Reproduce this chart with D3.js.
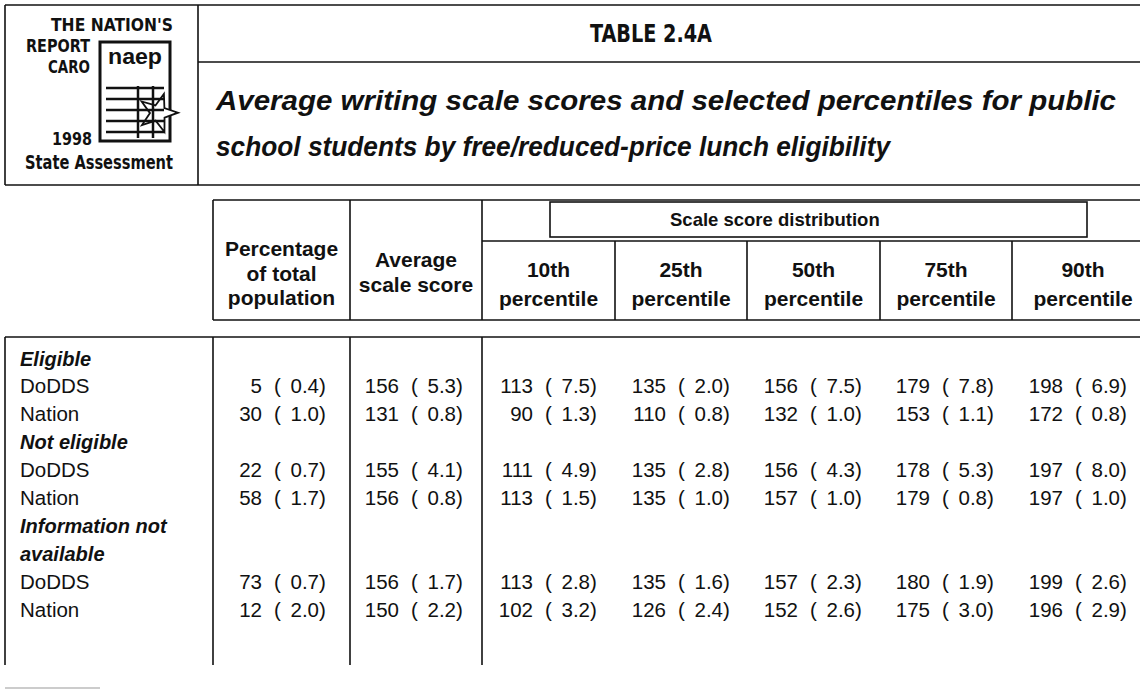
<!DOCTYPE html>
<html>
<head>
<meta charset="utf-8">
<script src="https://cdn.jsdelivr.net/npm/d3@7"></script>
<style>
  html, body { margin: 0; padding: 0; background: #fff; }
  svg { display: block; }
  text { fill: #111; }
</style>
</head>
<body>
<svg id="chart" width="1140" height="690"></svg>
<script>
// ---------------- DATA ----------------
const tableTitle = "TABLE 2.4A";
const subtitleLines = [
  "Average writing scale scores and selected percentiles for public",
  "school students by free/reduced-price lunch eligibility"
];
const columnKeys = ["pct", "avg", "p10", "p25", "p50", "p75", "p90"];
const headerTop = [["Percentage", "of total", "population"], ["Average", "scale score"]];
const percentileHeaders = ["10th", "25th", "50th", "75th", "90th"];
const groups = ["Eligible", "Not eligible", "Information not available"];
const jurisdictions = ["DoDDS", "Nation", "DoDDS", "Nation", "DoDDS", "Nation"];
const pct    = [5, 30, 22, 58, 73, 12];
const pctSE  = [0.4, 1.0, 0.7, 1.7, 0.7, 2.0];
const avg    = [156, 131, 155, 156, 156, 150];
const avgSE  = [5.3, 0.8, 4.1, 0.8, 1.7, 2.2];
const p10    = [113, 90, 111, 113, 113, 102];
const p10SE  = [7.5, 1.3, 4.9, 1.5, 2.8, 3.2];
const p25    = [135, 110, 135, 135, 135, 126];
const p25SE  = [2.0, 0.8, 2.8, 1.0, 1.6, 2.4];
const p50    = [156, 132, 156, 157, 157, 152];
const p50SE  = [7.5, 1.0, 4.3, 1.0, 2.3, 2.6];
const p75    = [179, 153, 178, 179, 180, 175];
const p75SE  = [7.8, 1.1, 5.3, 0.8, 1.9, 3.0];
const p90    = [198, 172, 197, 197, 199, 196];
const p90SE  = [6.9, 0.8, 8.0, 1.0, 2.6, 2.9];

const values = {pct, avg, p10, p25, p50, p75, p90};
const ses = {pct: pctSE, avg: avgSE, p10: p10SE, p25: p25SE, p50: p50SE, p75: p75SE, p90: p90SE};

// row slots: group headers + data rows
const rowSlots = ["g0", "r0", "r1", "g1", "r2", "r3", "g2a", "g2b", "r4", "r5"];

// ---------------- LAYOUT ----------------
const svg = d3.select("#chart");
const sans = "'Liberation Sans', Arial, Helvetica, sans-serif";
const narrow = "'Liberation Sans Narrow', 'DejaVu Sans Condensed', 'Liberation Sans', sans-serif";
const ink = "#111";

// scales
const yRow = d3.scalePoint().domain(rowSlots).range([358, 609]);
const colBorders = d3.scaleOrdinal().domain(["left", ...columnKeys, "right"])
  .range([5, 213, 350, 482, 615, 747, 880, 1012, 1140]);
const colTextEnd = d3.scaleOrdinal().domain(columnKeys)
  .range([326, 463, 597, 730, 862, 994, 1127]);

function line(x1, y1, x2, y2, w = 1.6, c = ink) {
  svg.append("line").attr("x1", x1).attr("y1", y1).attr("x2", x2).attr("y2", y2)
    .attr("stroke", c).attr("stroke-width", w);
}

// ---------- Top header ----------
line(5, 5, 1140, 5);
line(5, 5, 5, 185);
line(198, 5, 198, 185);
line(198, 62, 1140, 62);
line(5, 185, 1140, 185);

// Logo texts
const logo = svg.append("g").attr("font-family", narrow).attr("font-weight", "bold");
logo.append("text").attr("x", 173).attr("y", 31).attr("text-anchor", "end")
  .attr("font-size", 17).attr("textLength", 122).attr("lengthAdjust", "spacingAndGlyphs").text("THE NATION'S");
logo.append("text").attr("x", 90).attr("y", 52).attr("text-anchor", "end")
  .attr("font-size", 17).attr("textLength", 64).attr("lengthAdjust", "spacingAndGlyphs").text("REPORT");
logo.append("text").attr("x", 90).attr("y", 73).attr("text-anchor", "end")
  .attr("font-size", 17).attr("textLength", 42).attr("lengthAdjust", "spacingAndGlyphs").text("CARO");
logo.append("text").attr("x", 92).attr("y", 145).attr("text-anchor", "end")
  .attr("font-size", 18).attr("textLength", 40).attr("lengthAdjust", "spacingAndGlyphs").text("1998");
logo.append("text").attr("x", 25).attr("y", 169)
  .attr("font-size", 19).attr("textLength", 148).attr("lengthAdjust", "spacingAndGlyphs").text("State Assessment");

// document icon
const icon = svg.append("g");
icon.append("rect").attr("x", 100).attr("y", 42).attr("width", 70).attr("height", 99)
  .attr("fill", "none").attr("stroke", ink).attr("stroke-width", 3);
icon.append("text").attr("x", 135).attr("y", 64).attr("text-anchor", "middle")
  .attr("font-family", sans).attr("font-weight", "bold").attr("font-size", 22)
  .attr("textLength", 54).attr("lengthAdjust", "spacingAndGlyphs").text("naep");
[88, 99, 110, 121, 132].forEach(y => line(106, y, 164, y, 2.5));
[138, 153].forEach(x => line(x, 86, x, 138, 2.5));
const starPts = d3.range(10).map(i => {
  const a = -Math.PI / 2 + i * Math.PI / 5 + 0.3;
  const r = i % 2 === 0 ? 20 : 8;
  return [158 + r * Math.cos(a), 113 + r * Math.sin(a)];
});
icon.append("path").attr("d", d3.line()(starPts) + "Z")
  .attr("fill", "#fff").attr("stroke", ink).attr("stroke-width", 1.8);

// Title
svg.append("text").attr("x", 651).attr("y", 42).attr("text-anchor", "middle")
  .attr("font-family", narrow).attr("font-weight", "bold").attr("font-size", 24)
  .attr("textLength", 122).attr("lengthAdjust", "spacingAndGlyphs").text(tableTitle);

// Subtitle
svg.selectAll("text.sub").data(subtitleLines).join("text").attr("class", "sub")
  .attr("x", 216).attr("y", (d, i) => 110 + i * 46)
  .attr("font-family", sans).attr("font-weight", "bold").attr("font-style", "italic")
  .attr("font-size", 27)
  .attr("textLength", (d, i) => i === 0 ? 900 : 674).attr("lengthAdjust", "spacingAndGlyphs")
  .text(d => d);

// ---------- Table header ----------
const hTop = 200, hMid = 241, hBot = 320;
line(213, hTop, 1140, hTop);
line(colBorders("pct"), hTop, colBorders("pct"), hBot);
line(colBorders("avg"), hTop, colBorders("avg"), hBot);
line(colBorders("p10"), hTop, colBorders("p10"), hBot);
line(482, hMid, 1140, hMid);
["p25", "p50", "p75", "p90"].forEach(k => line(colBorders(k), hMid, colBorders(k), hBot));
line(213, hBot, 1140, hBot);

// Scale score distribution box
svg.append("rect").attr("x", 550).attr("y", 202).attr("width", 537).attr("height", 35)
  .attr("fill", "#fff").attr("stroke", ink).attr("stroke-width", 1.6);
svg.append("text").attr("x", 670).attr("y", 226)
  .attr("font-family", sans).attr("font-weight", "bold").attr("font-size", 18.5)
  .text("Scale score distribution");

const hdr = svg.append("g").attr("font-family", sans).attr("font-weight", "bold")
  .attr("font-size", 21).attr("text-anchor", "middle");
const cx = k => {
  const i = columnKeys.indexOf(k);
  const next = i + 1 < columnKeys.length ? colBorders(columnKeys[i + 1]) : 1154;
  return (colBorders(k) + next) / 2;
};
headerTop[0].forEach((t, i) => hdr.append("text").attr("x", cx("pct")).attr("y", 256 + i * 24.5).text(t));
headerTop[1].forEach((t, i) => hdr.append("text").attr("x", cx("avg")).attr("y", 267 + i * 25).text(t));
percentileHeaders.forEach((t, i) => {
  const k = columnKeys[i + 2];
  hdr.append("text").attr("x", cx(k)).attr("y", 277).text(t);
  hdr.append("text").attr("x", cx(k)).attr("y", 306).text("percentile");
});

// ---------- Table body ----------
const bTop = 337, bBot = 665;
line(5, bTop, 1140, bTop);
line(5, bTop, 5, bBot);
["pct", "avg", "p10"].forEach(k => line(colBorders(k), bTop, colBorders(k), bBot));
line(5, 688, 100, 688, 1.5, "#bbb");

const body = svg.append("g").attr("font-family", sans).attr("font-size", 20.5);
// group labels
const groupSlots = [["g0"], ["g1"], ["g2a", "g2b"]];
const groupLines = [["Eligible"], ["Not eligible"], ["Information not", "available"]];
groups.forEach((g, gi) => {
  groupLines[gi].forEach((t, li) => {
    body.append("text").attr("x", 20).attr("y", yRow(groupSlots[gi][li]) + 7.5)
      .attr("font-weight", "bold").attr("font-style", "italic").attr("font-size", 20).text(t);
  });
});
// jurisdiction labels
jurisdictions.forEach((j, i) => {
  body.append("text").attr("x", 20).attr("y", yRow("r" + i) + 7.5).text(j);
});
// values: "v ( se)"
columnKeys.forEach(k => {
  const E = colTextEnd(k);
  values[k].forEach((v, i) => {
    const y = yRow("r" + i) + 7.5;
    body.append("text").attr("x", E - 64).attr("y", y).attr("text-anchor", "end").text(v);
    body.append("text").attr("x", E - 52).attr("y", y).text("(");
    body.append("text").attr("x", E - 7).attr("y", y).attr("text-anchor", "end").text(ses[k][i].toFixed(1));
    body.append("text").attr("x", E - 7).attr("y", y).text(")");
  });
});
</script>
</body>
</html>
